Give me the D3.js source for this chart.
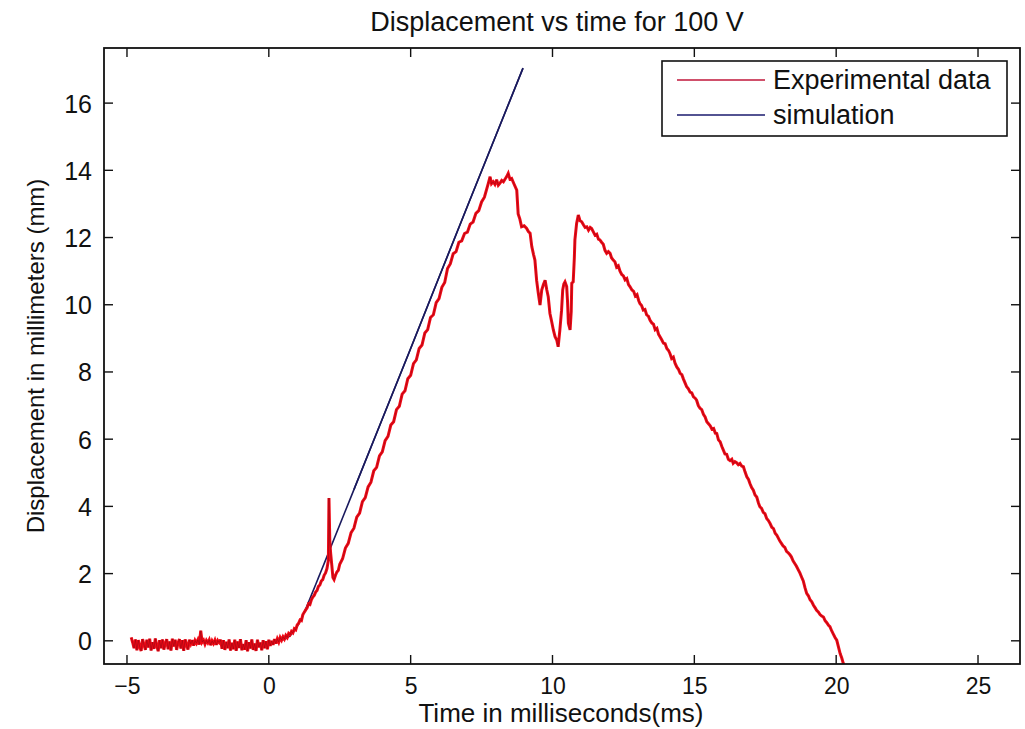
<!DOCTYPE html>
<html>
<head>
<meta charset="utf-8">
<script src="https://cdn.jsdelivr.net/npm/d3@7/dist/d3.min.js"></script>
<style>
  html, body { margin: 0; padding: 0; background: #ffffff; }
  svg { display: block; }
  text { font-family: "Liberation Sans", Arial, Helvetica, sans-serif; fill: #111; }
</style>
</head>
<body>
<svg id="chart" width="1025" height="729"></svg>
<script>
// ---- data: displacement (mm) against time (ms) ----
const titleText = "Displacement vs time for 100 V";
const xLabel = "Time in milliseconds(ms)";
const yLabel = "Displacement in millimeters (mm)";
const legendLabels = ["Experimental data", "simulation"];
const xTicks = [-5, 0, 5, 10, 15, 20, 25];
const yTicks = [0, 2, 4, 6, 8, 10, 12, 14, 16];

// experimental trace, baseline before the voltage step
const expBaseline = [
  [-4.85,0.10],[-4.80,-0.05],[-4.75,-0.22],[-4.70,0.04],[-4.65,-0.28],[-4.60,0.02],[-4.55,-0.18],[-4.50,-0.30],
  [-4.45,0.05],[-4.40,-0.12],[-4.35,-0.27],[-4.30,0.03],[-4.25,-0.20],[-4.20,0.06],[-4.15,-0.29],[-4.10,-0.04],
  [-4.05,-0.24],[-4.00,0.07],[-3.95,-0.15],[-3.90,-0.31],[-3.85,0.02],[-3.80,-0.22],[-3.75,0.04],[-3.70,-0.26],
  [-3.65,-0.08],[-3.60,0.05],[-3.55,-0.25],[-3.50,-0.02],[-3.45,-0.29],[-3.40,0.06],[-3.35,-0.17],[-3.30,0.03],
  [-3.25,-0.27],[-3.20,-0.06],[-3.15,0.05],[-3.10,-0.23],[-3.05,0.02],[-3.00,-0.30],[-2.95,0.04],[-2.90,-0.12],
  [-2.85,-0.26],[-2.80,0.03],[-2.75,-0.09],[-2.70,0.02],[-2.65,-0.14],[-2.60,0.01],[-2.55,-0.07],[-2.50,0.03],
  [-2.45,-0.11],[-2.40,0.30],[-2.35,-0.04],[-2.30,0.02],[-2.25,-0.10],[-2.20,0.01],[-2.15,-0.06],[-2.10,0.03],
  [-2.05,-0.13],[-2.00,0.00],[-1.95,-0.08],[-1.90,0.02],[-1.85,-0.12],[-1.80,0.01],[-1.75,-0.05],[-1.70,0.03],
  [-1.65,-0.24],[-1.60,0.02],[-1.55,-0.27],[-1.50,-0.03],[-1.45,-0.22],[-1.40,0.04],[-1.35,-0.29],[-1.30,-0.06],
  [-1.25,-0.25],[-1.20,0.03],[-1.15,-0.30],[-1.10,-0.02],[-1.05,-0.21],[-1.00,0.05],[-0.95,-0.28],[-0.90,-0.10],
  [-0.85,-0.26],[-0.80,0.02],[-0.75,-0.31],[-0.70,-0.04],[-0.65,-0.23],[-0.60,0.04],[-0.55,-0.27],[-0.50,-0.08],
  [-0.45,-0.30],[-0.40,0.03],[-0.35,-0.19],[-0.30,-0.05],[-0.25,-0.28],[-0.20,0.02],[-0.15,-0.22],[-0.10,-0.01],
  [-0.05,-0.25],[0.00,0.03],[0.05,-0.15],[0.10,0.00],[0.15,-0.12],[0.20,0.05],[0.25,-0.08],[0.30,0.06],
  [0.35,-0.04],[0.40,0.10],[0.45,0.02],[0.50,0.12],[0.55,0.05],[0.60,0.16],[0.65,0.10],[0.70,0.22],[0.75,0.18]
];

// experimental trace, rising edge (includes the spike near 2.1 ms)
const expRise = [
  [0.80,0.28],[0.85,0.24],[0.90,0.36],[0.95,0.33],[1.00,0.47],[1.05,0.52],[1.10,0.62],[1.15,0.60],
  [1.20,0.78],[1.25,0.85],[1.30,0.92],[1.35,0.98],[1.40,1.10],[1.45,1.08],[1.50,1.22],[1.55,1.30],
  [1.60,1.35],[1.65,1.45],[1.70,1.50],[1.75,1.62],[1.80,1.66],[1.85,1.78],[1.90,1.82],[1.95,1.95],
  [2.00,2.02],[2.05,2.15],[2.10,2.40],[2.12,4.25],[2.15,2.95],[2.18,2.60],[2.22,2.25],[2.26,1.88],
  [2.30,1.82],[2.35,1.95],[2.40,2.05],[2.45,2.10],[2.50,2.28],[2.60,2.44],[2.70,2.76],[2.80,2.90],
  [2.90,3.22],[3.00,3.35],[3.10,3.68],[3.20,3.80],[3.30,4.14],[3.40,4.26],[3.50,4.58],[3.60,4.72],
  [3.70,5.06],[3.80,5.16],[3.90,5.50],[4.00,5.62],[4.10,5.96],[4.20,6.08],[4.30,6.42],[4.40,6.52],
  [4.50,6.88],[4.60,6.98],[4.70,7.34],[4.80,7.44],[4.90,7.80],[5.00,7.90],[5.10,8.25],[5.20,8.36],
  [5.30,8.70],[5.40,8.80],[5.50,9.16],[5.60,9.26],[5.70,9.62],[5.80,9.70],[5.90,10.06],[6.00,10.18],
  [6.10,10.52],[6.20,10.66],[6.30,11.08],[6.40,11.22],[6.50,11.52],[6.60,11.58],[6.70,11.86],[6.80,11.90],
  [6.90,12.12],[7.00,12.16],[7.10,12.40],[7.20,12.46],[7.30,12.72],[7.40,12.80],[7.50,13.06],[7.60,13.20],
  [7.70,13.50],[7.74,13.62]
];

// experimental trace, plateau and the rebound dip
const expPeak = [
  [7.80,13.81],[7.85,13.60],[7.91,13.66],[7.97,13.58],[8.03,13.72],[8.09,13.56],[8.15,13.62],[8.21,13.70],
  [8.27,13.66],[8.33,13.74],[8.39,13.82],[8.44,13.91],[8.50,13.74],[8.56,13.76],[8.64,13.60],[8.74,13.41],
  [8.79,12.70],[8.85,12.55],[8.91,12.32],[9.00,12.35],[9.09,12.27],[9.15,12.18],[9.21,12.13],[9.27,11.73],
  [9.33,11.50],[9.38,11.33],[9.44,10.73],[9.50,10.34],[9.56,9.99],[9.62,10.44],[9.68,10.60],[9.74,10.73],
  [9.80,10.44],[9.85,10.24],[9.91,9.74],[9.97,9.50],[10.03,9.25],[10.09,9.05],[10.15,8.95],[10.20,8.75],
  [10.23,9.00],[10.26,9.25],[10.32,9.84],[10.36,10.44],[10.40,10.62],[10.44,10.68],[10.50,10.54],[10.53,10.10],
  [10.56,9.45],[10.62,9.25],[10.66,9.80],[10.68,10.64],[10.73,10.68],[10.77,11.40],[10.79,11.93],[10.85,12.42],
  [10.91,12.67],[10.97,12.50],[11.03,12.47],[11.09,12.38],[11.15,12.30],[11.21,12.32],[11.27,12.22],[11.33,12.30],
  [11.38,12.27],[11.44,12.17],[11.50,12.07],[11.56,12.10],[11.62,11.95],[11.67,11.93],[11.73,11.86],[11.79,11.80],
  [11.85,11.62],[11.91,11.53],[11.97,11.58],[12.03,11.53],[12.08,11.40],[12.14,11.33]
];

// experimental trace, return stroke
const expFall = [
  [12.20,11.28],[12.26,11.12],[12.32,11.16],[12.38,11.00],[12.44,10.90],[12.50,10.86],[12.56,10.74],[12.62,10.78],
  [12.68,10.60],[12.73,10.54],[12.80,10.44],[12.86,10.40],[12.92,10.26],[12.98,10.30],[13.04,10.12],[13.08,10.04],
  [13.14,9.98],[13.20,9.84],[13.26,9.86],[13.32,9.70],[13.38,9.66],[13.44,9.54],[13.50,9.46],[13.56,9.42],
  [13.62,9.26],[13.68,9.30],[13.74,9.12],[13.79,9.05],[13.85,8.96],[13.91,8.86],[13.97,8.84],[14.03,8.70],
  [14.09,8.64],[14.14,8.55],[14.20,8.40],[14.26,8.44],[14.32,8.26],[14.38,8.15],[14.44,8.08],[14.50,7.96],
  [14.56,7.92],[14.62,7.78],[14.68,7.66],[14.73,7.56],[14.79,7.50],[14.85,7.40],[14.91,7.38],[14.97,7.26],
  [15.03,7.22],[15.08,7.16],[15.14,7.00],[15.20,6.92],[15.26,6.88],[15.32,6.74],[15.38,6.66],[15.44,6.52],
  [15.50,6.46],[15.56,6.40],[15.62,6.30],[15.68,6.32],[15.74,6.18],[15.79,6.17],[15.85,5.98],[15.91,5.92],
  [15.97,5.78],[16.02,5.68],[16.08,5.56],[16.14,5.55],[16.20,5.40],[16.26,5.36],[16.32,5.40],[16.37,5.28],
  [16.43,5.33],[16.49,5.30],[16.55,5.24],[16.61,5.28],[16.67,5.20],[16.73,5.18],[16.79,5.02],[16.85,4.88],
  [16.91,4.80],[16.96,4.68],[17.02,4.56],[17.08,4.48],[17.14,4.34],[17.20,4.28],[17.26,4.10],[17.31,3.99],
  [17.37,3.94],[17.43,3.82],[17.49,3.78],[17.55,3.64],[17.61,3.58],[17.67,3.49],[17.73,3.38],[17.79,3.34],
  [17.85,3.20],[17.91,3.14],[17.97,3.04],[18.02,2.96],[18.07,2.90],[18.13,2.82],[18.19,2.78],[18.25,2.66],
  [18.31,2.62],[18.37,2.56],[18.42,2.50],[18.48,2.38],[18.54,2.30],[18.60,2.22],[18.66,2.12],[18.72,2.02],
  [18.78,1.90],[18.84,1.78],[18.90,1.58],[18.96,1.41],[19.02,1.34],[19.08,1.22],[19.14,1.16],[19.20,1.06],
  [19.26,0.98],[19.31,0.91],[19.37,0.86],[19.43,0.78],[19.49,0.74],[19.55,0.71],[19.61,0.60],[19.67,0.54],
  [19.73,0.46],[19.78,0.42],[19.84,0.30],[19.90,0.20],[19.96,0.10],[20.02,0.02],[20.08,-0.18],[20.14,-0.38],
  [20.20,-0.52],[20.25,-0.67],[20.32,-0.85]
];

// simulated displacement
const simulation = [
  [0.30,0.00],[0.50,0.03],[0.70,0.12],[0.90,0.30],[1.10,0.58],[1.30,0.95],[1.50,1.36],[1.75,1.88],
  [2.00,2.40],[3.00,4.50],[4.00,6.60],[5.00,8.70],[6.00,10.82],[7.00,12.93],[8.00,15.03],[8.96,17.04]
];

const experimental = expBaseline.concat(expRise, expPeak, expFall);

// ---- layout ----
const plot = { left: 104, right: 1020, top: 48, bottom: 664 };
const svg = d3.select("#chart");

const x = d3.scaleLinear().domain([-5.81, 26.48]).range([plot.left, plot.right]);
const y = d3.scaleLinear().domain([-0.69, 17.64]).range([plot.bottom, plot.top]);

svg.append("rect").attr("width", 1025).attr("height", 729).attr("fill", "#ffffff");

svg.append("defs").append("clipPath").attr("id", "plotClip")
  .append("rect")
  .attr("x", plot.left).attr("y", plot.top)
  .attr("width", plot.right - plot.left).attr("height", plot.bottom - plot.top);

// ---- data lines ----
const line = d3.line().x(d => x(d[0])).y(d => y(d[1]));
const lines = svg.append("g").attr("clip-path", "url(#plotClip)");

lines.append("path").datum(simulation)
  .attr("d", d3.line().curve(d3.curveMonotoneX).x(d => x(d[0])).y(d => y(d[1])))
  .attr("fill", "none")
  .attr("stroke", "#1a1a5e").attr("stroke-width", 1.6);

lines.append("path").datum(experimental)
  .attr("d", line).attr("fill", "none")
  .attr("stroke", "#f00a16").attr("stroke-width", 3)
  .attr("stroke-linejoin", "miter").attr("stroke-miterlimit", 3);
lines.append("path").datum(experimental)
  .attr("d", line).attr("fill", "none")
  .attr("stroke", "#6e0614").attr("stroke-opacity", 0.5).attr("stroke-width", 0.8);

// simulation stays visible above the red trace where the two overlap
lines.append("path").datum(simulation.filter(d => d[0] >= 2.3))
  .attr("d", d3.line().x(d => x(d[0])).y(d => y(d[1])))
  .attr("fill", "none")
  .attr("stroke", "#1a1a5e").attr("stroke-width", 1.6);

// ---- axes (box with inward ticks on all sides) ----
const tickLen = 9;
const axisBottom = d3.axisBottom(x).tickValues(xTicks).tickSize(0).tickPadding(0).tickFormat(d3.format("d"));
const axisLeft = d3.axisLeft(y).tickValues(yTicks).tickSize(0).tickPadding(0).tickFormat(d3.format("d"));

const gx = svg.append("g").attr("transform", `translate(0,${plot.bottom})`).call(axisBottom);
gx.select(".domain").remove();
gx.selectAll(".tick text")
  .attr("y", 30).attr("dy", 0)
  .style("font-size", "23px").style("font-family", "'Liberation Sans', Arial, sans-serif")
  .attr("fill", "#111");

const gy = svg.append("g").attr("transform", `translate(${plot.left},0)`).call(axisLeft);
gy.select(".domain").remove();
gy.selectAll(".tick text")
  .attr("x", -12).attr("dy", "0.36em")
  .style("font-size", "25px").style("font-family", "'Liberation Sans', Arial, sans-serif")
  .attr("fill", "#111");

const tickG = svg.append("g").attr("stroke", "#111").attr("stroke-width", 1.4);
xTicks.forEach(v => {
  tickG.append("line").attr("x1", x(v)).attr("x2", x(v)).attr("y1", plot.bottom).attr("y2", plot.bottom - tickLen);
  tickG.append("line").attr("x1", x(v)).attr("x2", x(v)).attr("y1", plot.top).attr("y2", plot.top + tickLen);
});
yTicks.forEach(v => {
  tickG.append("line").attr("x1", plot.left).attr("x2", plot.left + tickLen).attr("y1", y(v)).attr("y2", y(v));
  tickG.append("line").attr("x1", plot.right).attr("x2", plot.right - tickLen).attr("y1", y(v)).attr("y2", y(v));
});

svg.append("rect")
  .attr("x", plot.left).attr("y", plot.top)
  .attr("width", plot.right - plot.left).attr("height", plot.bottom - plot.top)
  .attr("fill", "none").attr("stroke", "#111").attr("stroke-width", 1.8);

// ---- titles ----
svg.append("text").attr("x", 557).attr("y", 31).attr("text-anchor", "middle")
  .style("font-size", "27px").text(titleText);

svg.append("text").attr("x", 561).attr("y", 722).attr("text-anchor", "middle")
  .style("font-size", "26px").text(xLabel);

svg.append("text")
  .attr("transform", "translate(44,356) rotate(-90)")
  .attr("text-anchor", "middle")
  .style("font-size", "24px").text(yLabel);

// ---- legend ----
const legend = svg.append("g");
legend.append("rect")
  .attr("x", 662).attr("y", 61).attr("width", 345).attr("height", 75)
  .attr("fill", "#ffffff").attr("stroke", "#111").attr("stroke-width", 1.6);

const legendColors = ["#c0163a", "#1a1a6e"];
const legendY = [80, 115];
legendLabels.forEach((label, i) => {
  legend.append("line")
    .attr("x1", 677).attr("x2", 765).attr("y1", legendY[i]).attr("y2", legendY[i])
    .attr("stroke", legendColors[i]).attr("stroke-width", 1.6);
  legend.append("text")
    .attr("x", 773).attr("y", legendY[i] + 9)
    .style("font-size", "27px").text(label);
});
</script>
</body>
</html>
